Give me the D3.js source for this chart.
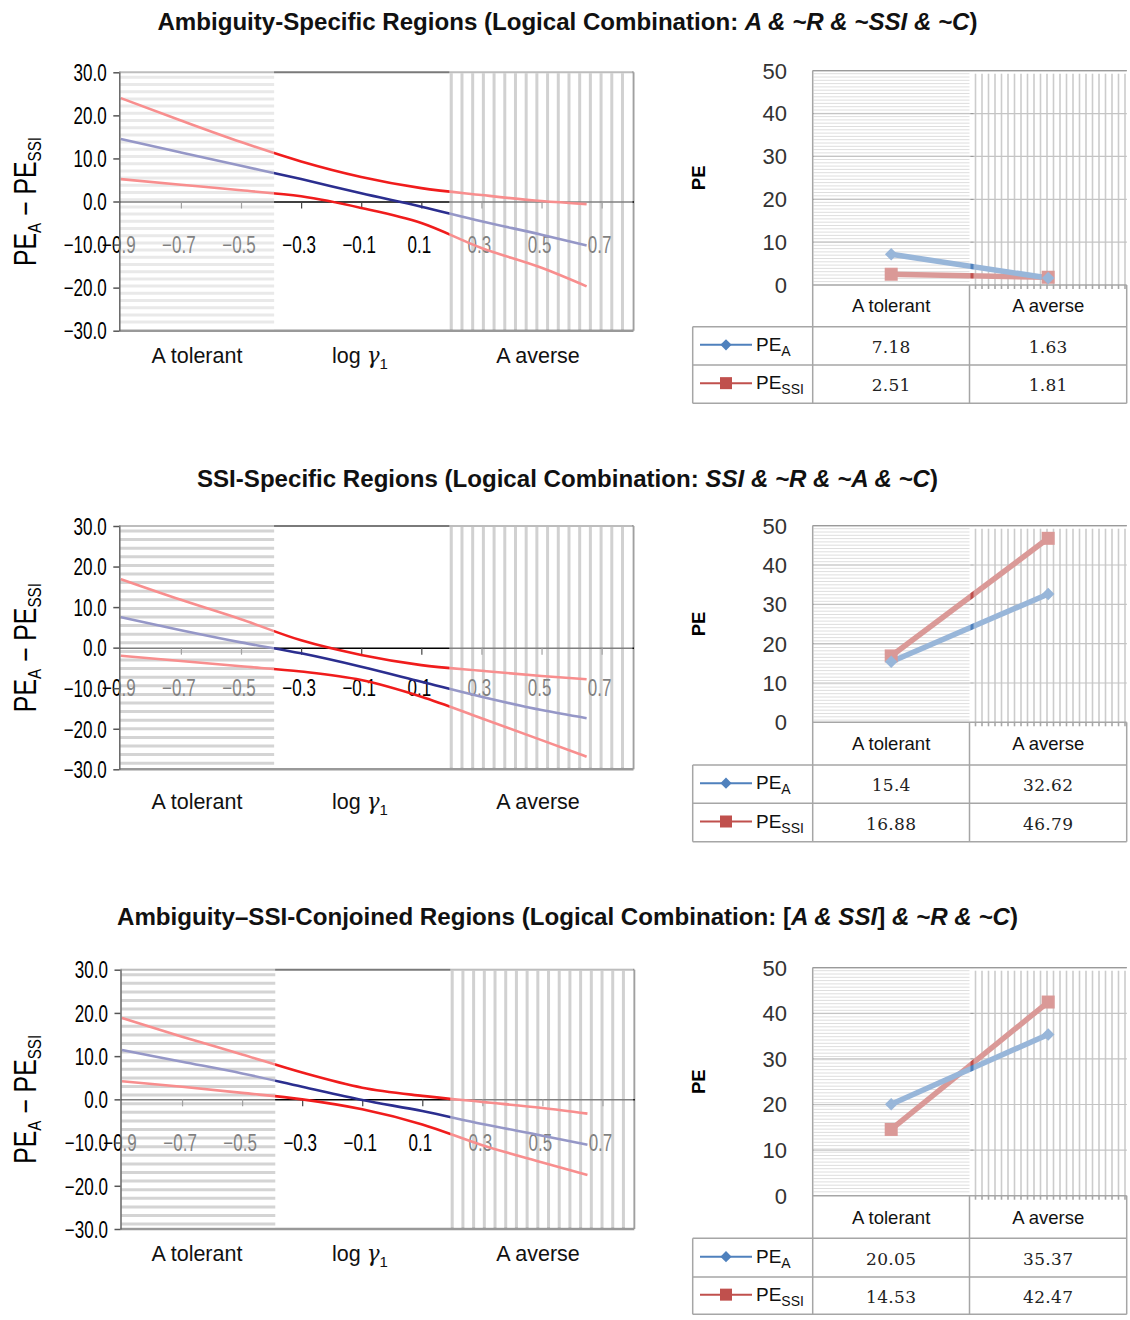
<!DOCTYPE html>
<html><head><meta charset="utf-8">
<script src="https://cdn.jsdelivr.net/npm/d3@7"></script>
<style>body{margin:0;background:#fff} svg{display:block}</style>
</head><body>
<svg id="c" width="1130" height="1320"></svg>
<script>
// ---------------- DATA ----------------
const xSamples = [-0.9, -0.7, -0.5, -0.3, -0.1, 0.1, 0.3, 0.5, 0.65];
const xTicks = [-0.9, -0.7, -0.5, -0.3, -0.1, 0.1, 0.3, 0.5, 0.7];
const yTicksLeft = [30, 20, 10, 0, -10, -20, -30];
const yTicksRight = [0, 10, 20, 30, 40, 50];
const regionBounds = [-0.39, 0.193];           // end of "A tolerant" zone, start of "A averse" zone
const categories = ["A tolerant", "A averse"];
const seriesNames = ["PE_A", "PE_SSI"];

// panel 1: Ambiguity-specific
const p1Upper = [24.0, 18.8, 13.8, 9.3, 5.7, 3.1, 1.5, 0.1, -0.6];
const p1Mid   = [14.5, 11.4, 8.3, 5.2, 1.9, -1.2, -4.6, -7.7, -10.2];
const p1Lower = [5.2, 3.9, 2.6, 1.2, -1.5, -5.0, -10.8, -15.4, -19.7];
const p1PEA   = [7.18, 1.63];
const p1PESSI = [2.51, 1.81];

// panel 2: SSI-specific
const p2Upper = [16.9, 11.8, 7.0, 1.8, -1.8, -4.3, -5.7, -7.0, -7.8];
const p2Mid   = [7.5, 4.3, 1.3, -1.4, -4.7, -8.4, -12.1, -15.4, -17.4];
const p2Lower = [-2.0, -3.3, -4.6, -5.9, -8.0, -12.1, -17.4, -22.8, -26.9];
const p2PEA   = [15.4, 32.62];
const p2PESSI = [16.88, 46.79];

// panel 3: Ambiguity–SSI conjoined
const p3Upper = [18.8, 14.5, 10.4, 6.2, 2.7, 0.8, -0.6, -2.0, -3.3];
const p3Mid   = [11.4, 8.7, 6.0, 2.9, -0.15, -2.7, -5.7, -8.4, -10.5];
const p3Lower = [4.2, 2.9, 1.5, 0.0, -2.3, -5.8, -10.6, -14.6, -17.5];
const p3PEA   = [20.05, 35.37];
const p3PESSI = [14.53, 42.47];

const titles = [
  [["Ambiguity-Specific Regions (Logical Combination: ", false], ["A & ~R & ~SSI & ~C", true], [")", false]],
  [["SSI-Specific Regions (Logical Combination: ", false], ["SSI & ~R & ~A & ~C", true], [")", false]],
  [["Ambiguity\u2013SSI-Conjoined Regions (Logical Combination: [", false], ["A & SSI", true], ["] ", false], ["& ~R & ~C", true], [")", false]]
];

const panels = [
  {upper: p1Upper, mid: p1Mid, lower: p1Lower, pea: p1PEA, pessi: p1PESSI},
  {upper: p2Upper, mid: p2Mid, lower: p2Lower, pea: p2PEA, pessi: p2PESSI},
  {upper: p3Upper, mid: p3Mid, lower: p3Lower, pea: p3PEA, pessi: p3PESSI}
];

// ---------------- LAYOUT ----------------
const layout = [
  {titleY: 30, titleW: 820, top: 72.3, bottom: 330.7, x0: 119.3, x1: 633.5, catY: 363, hsp: 7.2, hcol: "#d2d2d2",
   rTop: 70.7, rZero: 285, rows: [285, 326.7, 365, 403.3]},
  {titleY: 487, titleW: 741, top: 526, bottom: 769.3, x0: 119.3, x1: 633.5, catY: 809, hsp: 8.6, hcol: "#a8a8a8",
   rTop: 525.7, rZero: 722.3, rows: [722.3, 765, 803.3, 841.7]},
  {titleY: 925, titleW: 901, top: 969.7, bottom: 1229, x0: 120.5, x1: 634.3, catY: 1261, hsp: 8.6, hcol: "#a8a8a8",
   rTop: 967.7, rZero: 1195.7, rows: [1195.7, 1238.3, 1277, 1314.3]}
];

const svg = d3.select("#c");
const SANS = "'Liberation Sans', Arial, sans-serif";
const SERIF = "'DejaVu Serif', 'Liberation Serif', serif";

panels.forEach((P, i) => {
  const L = layout[i];
  const g = svg.append("g");

  // ---- title ----
  const t = g.append("text").attr("x", 567.5).attr("y", L.titleY)
    .attr("text-anchor", "middle").attr("font-family", SANS).attr("font-weight", "bold")
    .attr("font-size", 23).attr("fill", "#111")
    .attr("textLength", L.titleW).attr("lengthAdjust", "spacingAndGlyphs");
  titles[i].forEach(([s, it]) => t.append("tspan").text(s).attr("font-style", it ? "italic" : "normal"));

  // ---- left chart ----
  const x = d3.scaleLinear().domain([-0.905, 0.806]).range([L.x0, L.x1]);
  const y = d3.scaleLinear().domain([-30, 30]).range([L.bottom, L.top]);
  const xTolEnd = x(regionBounds[0]), xAvStart = x(regionBounds[1]);

  // stripes (drawn before the fade overlay)
  const hs = g.append("g");
  for (let yy = L.top + 5; yy < L.bottom - 2; yy += L.hsp) {
    hs.append("line").attr("x1", L.x0 + 1).attr("x2", xTolEnd).attr("y1", yy).attr("y2", yy)
      .attr("stroke", L.hcol).attr("stroke-width", 3);
  }
  for (let xx = xAvStart + 2; xx < L.x1 - 2; xx += 10.7) {
    hs.append("line").attr("x1", xx).attr("x2", xx).attr("y1", L.top + 1).attr("y2", L.bottom - 1)
      .attr("stroke", "#a2a2a2").attr("stroke-width", 3);
  }

  // frame
  g.append("line").attr("x1", L.x0).attr("x2", L.x1).attr("y1", L.top).attr("y2", L.top)
    .attr("stroke", "#7a7a7a").attr("stroke-width", 2);
  g.append("line").attr("x1", L.x1).attr("x2", L.x1).attr("y1", L.top).attr("y2", L.bottom)
    .attr("stroke", "#a0a0a0").attr("stroke-width", 2);
  g.append("line").attr("x1", L.x0).attr("x2", L.x1).attr("y1", L.bottom).attr("y2", L.bottom)
    .attr("stroke", "#999").attr("stroke-width", 2.5);

  // x tick labels (under the overlay so the shaded ones fade)
  xTicks.forEach(v => {
    g.append("text").attr("transform", `translate(${x(v) - 2},${y(-10) + 8}) scale(0.74,1)`)
      .attr("text-anchor", "middle").attr("font-family", SANS).attr("font-size", 23).attr("fill", "#000")
      .text(d3.format(".1f")(v));
  });

  // x axis along zero
  const xa = g.append("g").attr("transform", `translate(0,${y(0)})`)
    .call(d3.axisBottom(x).tickValues(xTicks.slice(1)).tickSize(7).tickSizeOuter(0).tickFormat(""));
  xa.select(".domain").attr("stroke", "#000").attr("stroke-width", 1.5);
  xa.selectAll(".tick line").attr("stroke", "#444").attr("stroke-width", 1.2);

  // curves
  const line = d3.line().x((d, k) => x(xSamples[k])).y(d => y(d)).curve(d3.curveMonotoneX);
  [[P.upper, "#f01c1c"], [P.lower, "#f01c1c"], [P.mid, "#2b2e8f"]].forEach(([arr, c]) => {
    g.append("path").datum(arr).attr("d", line).attr("fill", "none").attr("stroke", c)
      .attr("stroke-width", 2.6);
  });

  // fading overlay for shaded zones
  g.append("rect").attr("x", L.x0 + 1).attr("y", L.top - 1.5).attr("width", xTolEnd - L.x0 - 1)
    .attr("height", L.bottom - L.top).attr("fill", "#fff").attr("opacity", 0.5);
  g.append("rect").attr("x", xAvStart).attr("y", L.top - 1.5).attr("width", L.x1 - 1 - xAvStart)
    .attr("height", L.bottom - L.top).attr("fill", "#fff").attr("opacity", 0.5);

  // y axis
  const ya = g.append("g").attr("transform", `translate(${L.x0},0)`)
    .call(d3.axisLeft(y).tickValues(yTicksLeft).tickSize(6).tickSizeOuter(0).tickFormat(d3.format(".1f")));
  ya.select(".domain").attr("stroke", "#666").attr("stroke-width", 1.5);
  ya.selectAll(".tick line").attr("stroke", "#555").attr("stroke-width", 1.5);
  ya.selectAll(".tick text").attr("font-family", SANS).attr("font-size", 23).attr("fill", "#000")
    .attr("x", -17).attr("dy", "0.36em").attr("transform", "scale(0.74,1)");

  // y title
  const yt = g.append("text")
    .attr("transform", `translate(36,${y(0)}) rotate(-90) scale(0.8,1)`)
    .attr("text-anchor", "middle").attr("font-family", SANS).attr("font-size", 31).attr("fill", "#000");
  yt.append("tspan").text("PE");
  yt.append("tspan").text("A").attr("font-size", 19).attr("dy", 5);
  yt.append("tspan").text(" \u2212 PE").attr("dy", -5);
  yt.append("tspan").text("SSI").attr("font-size", 19).attr("dy", 5);

  // category labels
  const cat = (tx, s) => g.append("text").attr("x", tx).attr("y", L.catY).attr("text-anchor", "middle")
    .attr("font-family", SANS).attr("font-size", 21.5).attr("fill", "#111").text(s);
  cat(197, "A tolerant");
  cat(538, "A averse");
  const lg = g.append("text").attr("x", 360).attr("y", L.catY).attr("text-anchor", "middle")
    .attr("font-family", SANS).attr("font-size", 21.5).attr("fill", "#111");
  lg.append("tspan").text("log ");
  lg.append("tspan").text("\u03b3").attr("font-style", "italic").attr("font-family", "'DejaVu Serif', serif");
  lg.append("tspan").text("1").attr("font-size", 15).attr("dy", 6);

  // ---- right chart ----
  const RX0 = 812.7, RX1 = 1126.7, RMID = 969.5, LEG0 = 692.7;
  const yR = d3.scaleLinear().domain([0, 50]).range([L.rZero, L.rTop]);
  const xR = d3.scaleBand().domain(categories).range([RX0, RX1]);
  const cx = c => xR(c) + xR.bandwidth() / 2;

  const rs = g.append("g");
  for (let yy = L.rTop + 3; yy < L.rZero - 1; yy += 3.3) {
    rs.append("line").attr("x1", RX0 + 1).attr("x2", RMID).attr("y1", yy).attr("y2", yy)
      .attr("stroke", "#c6c6c6").attr("stroke-width", 1);
  }
  for (let xx = RMID + 6; xx < RX1 - 1; xx += 6.5) {
    rs.append("line").attr("x1", xx).attr("x2", xx).attr("y1", L.rTop + 3).attr("y2", L.rZero + 4)
      .attr("stroke", "#a8a8a8").attr("stroke-width", 1.6);
  }
  yTicksRight.slice(1).forEach(v => {
    g.append("line").attr("x1", RX0).attr("x2", RX1).attr("y1", yR(v)).attr("y2", yR(v))
      .attr("stroke", "#9a9a9a").attr("stroke-width", 1.2);
  });

  const lineR = d3.line().x((d, k) => cx(categories[k])).y(d => yR(d));
  const colA = "#4f81bd", colS = "#c0504d";
  g.append("path").datum(P.pessi).attr("d", lineR).attr("fill", "none").attr("stroke", colS).attr("stroke-width", 5.5);
  g.append("path").datum(P.pea).attr("d", lineR).attr("fill", "none").attr("stroke", colA).attr("stroke-width", 5.5);
  P.pessi.forEach((v, k) => g.append("rect").attr("x", cx(categories[k]) - 6.5).attr("y", yR(v) - 6.5)
    .attr("width", 13).attr("height", 13).attr("fill", colS));
  P.pea.forEach((v, k) => g.append("path").attr("d", d3.symbol(d3.symbolDiamond2, 100)())
    .attr("transform", `translate(${cx(categories[k])},${yR(v)})`).attr("fill", colA));

  // fading overlays
  g.append("rect").attr("x", RX0 + 1).attr("y", L.rTop + 1).attr("width", RMID + 1 - RX0 - 1)
    .attr("height", L.rZero - L.rTop - 1).attr("fill", "#fff").attr("opacity", 0.42);
  g.append("rect").attr("x", RMID + 4).attr("y", L.rTop + 1).attr("width", RX1 - RMID - 4)
    .attr("height", L.rZero - L.rTop - 1).attr("fill", "#fff").attr("opacity", 0.42);

  // top gridline redraw
  g.append("line").attr("x1", RX0).attr("x2", RX1).attr("y1", L.rTop).attr("y2", L.rTop)
    .attr("stroke", "#9a9a9a").attr("stroke-width", 1.2);

  // y tick labels
  yTicksRight.forEach(v => g.append("text").attr("x", 787).attr("y", yR(v)).attr("dy", "0.36em")
    .attr("text-anchor", "end").attr("font-family", SANS).attr("font-size", 22).attr("fill", "#333")
    .text(v));

  // PE title
  g.append("text").attr("transform", `translate(705,${(L.rTop + L.rZero) / 2}) rotate(-90)`)
    .attr("text-anchor", "middle").attr("font-family", SANS).attr("font-weight", "bold")
    .attr("font-size", 18.5).attr("fill", "#000").text("PE");

  // data table
  const R = L.rows, tc = "#a6a6a6";
  const hl = (x1, x2, yy) => g.append("line").attr("x1", x1).attr("x2", x2).attr("y1", yy).attr("y2", yy)
    .attr("stroke", tc).attr("stroke-width", 1.5);
  const vl = (xx, y1, y2) => g.append("line").attr("x1", xx).attr("x2", xx).attr("y1", y1).attr("y2", y2)
    .attr("stroke", tc).attr("stroke-width", 1.5);
  hl(RX0, RX1, R[0]); hl(LEG0, RX1, R[1]); hl(LEG0, RX1, R[2]); hl(LEG0, RX1, R[3]);
  vl(RX0, L.rTop, R[3]); vl(RMID, R[0], R[3]); vl(RX1, R[0], R[3]); vl(LEG0, R[1], R[3]);

  categories.forEach(c => g.append("text").attr("x", cx(c)).attr("y", (R[0] + R[1]) / 2 + 6.5)
    .attr("text-anchor", "middle").attr("font-family", SANS).attr("font-size", 18.5).attr("fill", "#111").text(c));

  const rowsData = [[P.pea, colA, "A", 1], [P.pessi, colS, "SSI", 2]];
  rowsData.forEach(([vals, col, sub, r]) => {
    const my = (R[r] + R[r + 1]) / 2;
    g.append("line").attr("x1", 700).attr("x2", 752).attr("y1", my - 1).attr("y2", my - 1)
      .attr("stroke", col).attr("stroke-width", 2);
    if (r === 1) g.append("path").attr("d", d3.symbol(d3.symbolDiamond2, 80)())
      .attr("transform", `translate(726,${my - 1})`).attr("fill", col);
    else g.append("rect").attr("x", 720).attr("y", my - 7).attr("width", 12).attr("height", 12).attr("fill", col);
    const lt = g.append("text").attr("x", 756).attr("y", my + 5).attr("font-family", SANS)
      .attr("font-size", 19).attr("fill", "#111");
    lt.append("tspan").text("PE");
    lt.append("tspan").text(sub).attr("font-size", 14).attr("dy", 5);
    vals.forEach((v, k) => g.append("text").attr("x", cx(categories[k])).attr("y", my + 7)
      .attr("text-anchor", "middle").attr("font-family", SERIF).attr("font-size", 17)
      .attr("letter-spacing", 0.3).attr("fill", "#222").text(v));
  });
});
</script>
</body></html>
